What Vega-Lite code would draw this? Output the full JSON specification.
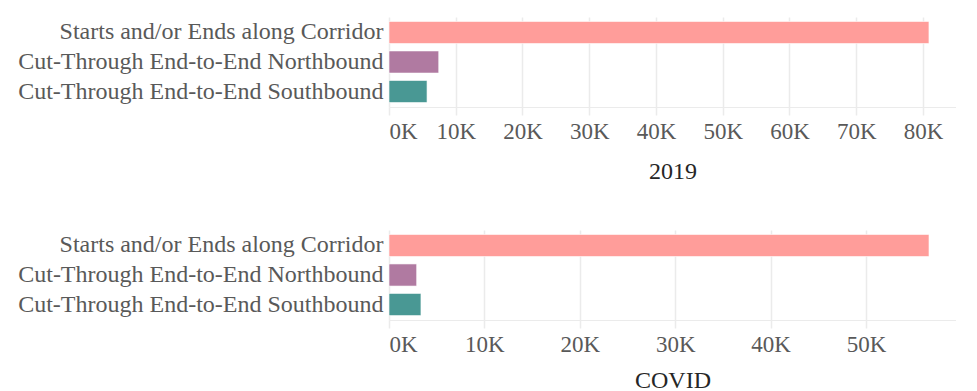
{
  "$schema": "https://vega.github.io/schema/vega-lite/v6.json",
  "padding": {"left": 0, "top": 17, "right": 0, "bottom": 0},
  "spacing": 47,
  "data": {
    "values": [
      {"period": "2019", "category": "Starts and/or Ends along Corridor", "trips": 80900},
      {"period": "2019", "category": "Cut-Through End-to-End Northbound", "trips": 7450},
      {"period": "2019", "category": "Cut-Through End-to-End Southbound", "trips": 5700},
      {"period": "COVID", "category": "Starts and/or Ends along Corridor", "trips": 56600},
      {"period": "COVID", "category": "Cut-Through End-to-End Northbound", "trips": 2900},
      {"period": "COVID", "category": "Cut-Through End-to-End Southbound", "trips": 3350}
    ]
  },
  "config": {
    "font": "Liberation Serif",
    "view": {"stroke": null},
    "axis": {"labelFont": "Liberation Serif", "titleFont": "Liberation Serif"}
  },
  "vconcat": [
    {
      "width": 567,
      "height": 90,
      "transform": [{"filter": "datum.period === '2019'"}],
      "mark": {"type": "bar", "stroke": "white", "strokeWidth": 1, "strokeOpacity": 0.6},
      "encoding": {
        "y": {
          "field": "category", "type": "nominal",
          "sort": ["Starts and/or Ends along Corridor", "Cut-Through End-to-End Northbound", "Cut-Through End-to-End Southbound"],
          "scale": {"paddingInner": 0.25, "paddingOuter": 0.15},
          "axis": {"title": null, "ticks": false, "domain": false, "grid": false, "labelFontSize": 24, "labelColor": "#595959", "labelPadding": 6, "minExtent": 389, "maxExtent": 389, "labelLimit": 400}
        },
        "x": {
          "field": "trips", "type": "quantitative",
          "scale": {"domain": [0, 84950], "nice": false},
          "axis": {"title": "2019", "values": [0, 10000, 20000, 30000, 40000, 50000, 60000, 70000, 80000], "labelExpr": "datum.value / 1000 + 'K'", "grid": true, "gridColor": "#ebebeb", "gridWidth": 1.5, "domainColor": "#ebebeb", "tickColor": "#ebebeb", "tickWidth": 1.5, "tickSize": 8, "labelFontSize": 23, "labelColor": "#595959", "labelPadding": 5, "labelFlush": true, "titleFontSize": 24, "titleColor": "#262626", "titleFontWeight": "normal", "titlePadding": 16}
        },
        "color": {
          "field": "category", "type": "nominal",
          "scale": {"domain": ["Starts and/or Ends along Corridor", "Cut-Through End-to-End Northbound", "Cut-Through End-to-End Southbound"], "range": ["#FF9D9A", "#B07AA1", "#499894"]},
          "legend": null
        }
      }
    },
    {
      "width": 567,
      "height": 90,
      "transform": [{"filter": "datum.period === 'COVID'"}],
      "mark": {"type": "bar", "stroke": "white", "strokeWidth": 1, "strokeOpacity": 0.6},
      "encoding": {
        "y": {
          "field": "category", "type": "nominal",
          "sort": ["Starts and/or Ends along Corridor", "Cut-Through End-to-End Northbound", "Cut-Through End-to-End Southbound"],
          "scale": {"paddingInner": 0.25, "paddingOuter": 0.15},
          "axis": {"title": null, "ticks": false, "domain": false, "grid": false, "labelFontSize": 24, "labelColor": "#595959", "labelPadding": 6, "minExtent": 389, "maxExtent": 389, "labelLimit": 400}
        },
        "x": {
          "field": "trips", "type": "quantitative",
          "scale": {"domain": [0, 59430], "nice": false},
          "axis": {"title": "COVID", "values": [0, 10000, 20000, 30000, 40000, 50000], "labelExpr": "datum.value / 1000 + 'K'", "grid": true, "gridColor": "#ebebeb", "gridWidth": 1.5, "domainColor": "#ebebeb", "tickColor": "#ebebeb", "tickWidth": 1.5, "tickSize": 8, "labelFontSize": 23, "labelColor": "#595959", "labelPadding": 5, "labelFlush": true, "titleFontSize": 24, "titleColor": "#262626", "titleFontWeight": "normal", "titlePadding": 12}
        },
        "color": {
          "field": "category", "type": "nominal",
          "scale": {"domain": ["Starts and/or Ends along Corridor", "Cut-Through End-to-End Northbound", "Cut-Through End-to-End Southbound"], "range": ["#FF9D9A", "#B07AA1", "#499894"]},
          "legend": null
        }
      }
    }
  ]
}
